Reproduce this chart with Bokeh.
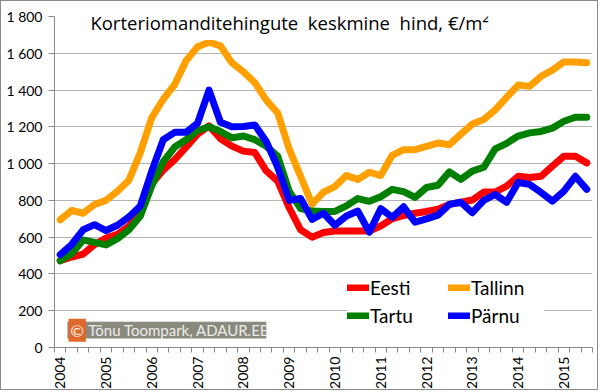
from bokeh.plotting import figure
from bokeh.models import (Range1d, FixedTicker, Legend, LegendItem, Label, BoxAnnotation)
from bokeh.embed import file_html
from bokeh.resources import INLINE
import math

# ---- data (quarterly, 2004 Q1 .. 2015 Q3), EUR/m2 ----
years = ["2004", "2005", "2006", "2007", "2008", "2009", "2010", "2011", "2012", "2013", "2014", "2015"]
quarters_per_year = 4
n_points = 47

eesti = [472, 492, 508, 560, 595, 615, 660, 740, 890, 965, 1022, 1090,
         1160, 1205, 1135, 1095, 1068, 1060, 960, 905, 760, 640, 600, 625,
         634, 634, 634, 634, 661, 700, 718, 730, 740, 752, 778, 790,
         802, 845, 845, 877, 931, 925, 931, 986, 1040, 1040, 1004]
tallinn = [695, 745, 730, 778, 800, 850, 910, 1060, 1250, 1350, 1430, 1560,
           1635, 1660, 1640, 1548, 1500, 1440, 1345, 1275, 1080, 930, 780, 845,
           875, 935, 914, 953, 935, 1045, 1076, 1076, 1094, 1112, 1103, 1160,
           1215, 1240, 1292, 1360, 1427, 1420, 1475, 1508, 1553, 1553, 1548]
tartu = [472, 510, 585, 572, 558, 592, 640, 715, 880, 1010, 1090, 1130,
         1180, 1200, 1175, 1140, 1150, 1130, 1094, 1040, 850, 755, 742, 740,
         740, 770, 810, 795, 820, 860, 848, 816, 870, 882, 955, 914,
         959, 980, 1080, 1110, 1150, 1167, 1175, 1193, 1230, 1252, 1252]
parnu = [505, 560, 640, 668, 636, 665, 710, 770, 960, 1130, 1170, 1170,
         1220, 1400, 1225, 1200, 1202, 1210, 1120, 980, 800, 810, 697, 730,
         665, 715, 742, 627, 755, 708, 765, 681, 700, 720, 778, 790,
         733, 800, 832, 790, 897, 887, 843, 796, 850, 931, 860]

series_names = ["Eesti", "Tallinn", "Tartu", "Pärnu"]
series_values = [eesti, tallinn, tartu, parnu]
series_colors = ["#ff0000", "#ffa000", "#008000", "#0000ff"]

y_ticks = [0, 200, 400, 600, 800, 1000, 1200, 1400, 1600, 1800]
y_tick_labels = ["0", "200", "400", "600", "800", "1 000", "1 200", "1 400", "1 600", "1 800"]

title_text = "Korteriomanditehingute\u00a0 keskmine\u00a0 hind, €/m²"
credit_text = "Tõnu Toompark, ADAUR.EE"

FONT = "Lato"

x = [i + 0.5 for i in range(n_points)]

p = figure(width=598, height=390, output_backend="svg", toolbar_location=None,
           x_range=Range1d(0, n_points), y_range=Range1d(0, 1800),
           min_border_left=53, min_border_right=7, min_border_top=15, min_border_bottom=42)
p.styles = {"border": "1px solid #8a8a8a"}
p.outline_line_color = None
p.background_fill_color = "white"
p.border_fill_color = "white"

# x axis: labels at first quarter of each year, small ticks between categories
xax = p.xaxis[0]
xax.ticker = FixedTicker(ticks=[i * quarters_per_year + 0.5 for i in range(len(years))],
                         minor_ticks=list(range(0, n_points + 1)))
xax.major_label_overrides = {i * quarters_per_year + 0.5: y for i, y in enumerate(years)}
xax.major_label_orientation = math.pi / 2
xax.major_tick_out = 0
xax.major_tick_in = 0
xax.minor_tick_out = 5
xax.minor_tick_in = 0
xax.minor_tick_line_color = "#8a8a8a"
xax.axis_line_color = "#8a8a8a"
xax.major_label_standoff = 4
xax.major_label_text_font = FONT
xax.major_label_text_font_size = "14px"
xax.major_label_text_color = "black"

yax = p.yaxis[0]
yax.ticker = FixedTicker(ticks=y_ticks)
yax.major_label_overrides = {t: l for t, l in zip(y_ticks, y_tick_labels)}
yax.major_tick_out = 6
yax.major_tick_in = 0
yax.minor_tick_out = 0
yax.minor_tick_in = 0
yax.major_tick_line_color = "#8a8a8a"
yax.axis_line_color = "#8a8a8a"
yax.major_label_standoff = 6
yax.major_label_text_font = FONT
yax.major_label_text_font_size = "14px"
yax.major_label_text_color = "black"

p.xgrid.visible = False
p.ygrid.ticker = FixedTicker(ticks=y_ticks)
p.ygrid.grid_line_color = "#b4b4b4"
p.ygrid.grid_line_width = 1

renderers = []
for name, vals, col in zip(series_names, series_values, series_colors):
    r = p.line(x, vals, line_color=col, line_width=7, line_cap="round", line_join="round")
    renderers.append((name, r))

rd = dict(renderers)
legend = Legend(items=[LegendItem(label=n, renderers=[rd[n]]) for n in ["Eesti", "Tallinn", "Tartu", "Pärnu"]],
                location=(293, 20), orientation="horizontal", ncols=2,
                background_fill_color="white", background_fill_alpha=1.0,
                border_line_color=None, padding=6, spacing=5, margin=0,
                glyph_width=22, glyph_height=7, label_standoff=1, label_width=73,
                label_height=22,
                label_text_font=FONT, label_text_font_size="19px", label_text_color="black")
p.add_layout(legend, "center")

# title inside plot area
title = Label(x=2.7, y=1768, text=title_text, text_font="Open Sans", text_font_size="18.5px",
              text_color="black", text_baseline="middle", text_align="left",
              background_fill_color="white", padding=5)
p.add_layout(title)

# credit box
box = BoxAnnotation(left=1.13, right=18.5, bottom=49, top=140,
                    fill_color="#8a897d", fill_alpha=1.0, line_color="#c8c8c0", line_width=1)
p.add_layout(box)
copy_lbl = Label(x=1.23, y=94, text="©", text_font=FONT, text_font_size="16px",
                 text_color="white", text_baseline="middle", text_align="left",
                 background_fill_color="#e0682a", padding=2)
p.add_layout(copy_lbl)
credit = Label(x=2.95, y=94, text=credit_text, text_font=FONT, text_font_size="15px",
               text_color="#ececec", text_baseline="middle", text_align="left")
p.add_layout(credit)

html = file_html(p, INLINE)
html = html.replace("<head>", "<head><style>html,body{margin:0;padding:0;}</style>", 1)
open("out.html", "w").write(html)
